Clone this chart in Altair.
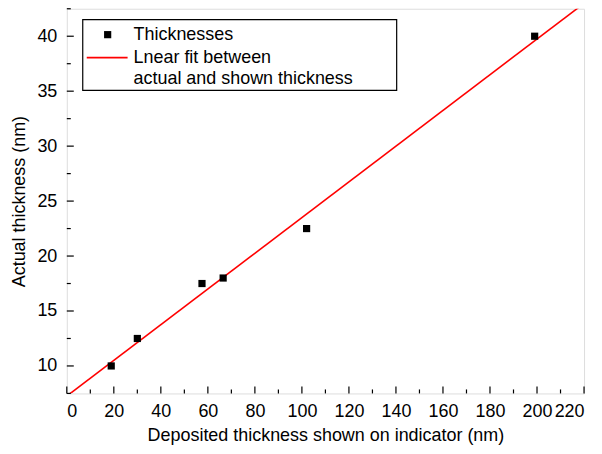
import altair as alt
import pandas as pd

# Data
shown = [18.9, 30.0, 57.5, 66.5, 102.0, 199.0]
actual = [10.0, 12.5, 17.5, 18.0, 22.5, 40.0]

fit_x = [0.0, 220.0]
fit_y = [7.26, 42.99]

x_major = [0, 20, 40, 60, 80, 100, 120, 140, 160, 180, 200, 220]
x_minor = [10, 30, 50, 70, 90, 110, 130, 150, 170, 190, 210]
y_major = [10, 15, 20, 25, 30, 35, 40]
y_minor = [7.5, 12.5, 17.5, 22.5, 27.5, 32.5, 37.5, 42.5]

legend_labels = ["Thicknesses", "Lnear fit between", "actual and shown thickness"]

W, H = 519, 386
FONT = "Liberation Sans"
FS = 18

pts_df = pd.DataFrame({"x": shown, "y": actual})
fit_df = pd.DataFrame({"x": fit_x, "y": fit_y})
one = pd.DataFrame({"a": [0]})

xs = alt.Scale(domain=[0, 220], nice=False, zero=False)
ys = alt.Scale(domain=[7.5, 42.5], nice=False, zero=False)

xaxis = alt.Axis(values=x_major, ticks=False, grid=False, domain=False,
                 labelPadding=9, titlePadding=6, labelFontSize=FS,
                 titleFontSize=FS, titleFontWeight="normal", labelColor="black",
                 titleColor="black", labelFont=FONT, titleFont=FONT,
                 title="Deposited thickness shown on indicator (nm)")
yaxis = alt.Axis(values=y_major, ticks=False, grid=False, domain=False,
                 labelPadding=10, titlePadding=8, labelFontSize=FS,
                 titleFontSize=FS, titleFontWeight="normal", labelColor="black",
                 titleColor="black", labelFont=FONT, titleFont=FONT,
                 title="Actual thickness (nm)")

fit = alt.Chart(fit_df).mark_line(color="#ff0000", strokeWidth=1.6, clip=True).encode(
    x=alt.X("x:Q", scale=xs, axis=xaxis),
    y=alt.Y("y:Q", scale=ys, axis=yaxis),
)

pts = alt.Chart(pts_df).mark_square(color="black", size=52, opacity=1).encode(
    x=alt.X("x:Q", scale=xs),
    y=alt.Y("y:Q", scale=ys),
)

def xticks(vals, length):
    return alt.Chart(pd.DataFrame({"v": vals})).mark_rule(color="black", strokeWidth=1.2).encode(
        x=alt.X("v:Q", scale=xs),
        y=alt.value(H), y2=alt.value(H - length))

def yticks(vals, length):
    return alt.Chart(pd.DataFrame({"v": vals})).mark_rule(color="black", strokeWidth=1.2).encode(
        y=alt.Y("v:Q", scale=ys),
        x=alt.value(0), x2=alt.value(length))

# Legend (drawn by hand, in pixel space)
leg_box = alt.Chart(one).mark_rect(fill="white", stroke="black", strokeWidth=1.2).encode(
    x=alt.value(16), x2=alt.value(331), y=alt.value(11), y2=alt.value(82))
leg_sq = alt.Chart(one).mark_square(color="black", size=52, opacity=1).encode(
    x=alt.value(41), y=alt.value(26))
leg_line = alt.Chart(one).mark_rule(color="#ff0000", strokeWidth=1.6).encode(
    x=alt.value(20), x2=alt.value(61), y=alt.value(49))
leg_text = alt.Chart(pd.DataFrame({"t": legend_labels, "yy": [26, 49, 71]})).mark_text(
    align="left", baseline="middle", fontSize=FS, font=FONT, color="black").encode(
    x=alt.value(67), y=alt.Y("yy:Q", scale=None), text="t:N")

chart = alt.layer(
    fit, pts,
    xticks(x_major, 7), xticks(x_minor, 4),
    yticks(y_major, 7), yticks(y_minor, 4),
    leg_box, leg_sq, leg_line, leg_text,
).properties(
    width=W, height=H,
    autosize=alt.AutoSizeParams(type="none"),
    padding={"left": 59, "top": 0, "right": 10, "bottom": 52},
).configure_view(stroke="black", strokeWidth=1.5).configure(background="white")

chart.save("out.html", embed_options={"renderer": "svg", "actions": False})
